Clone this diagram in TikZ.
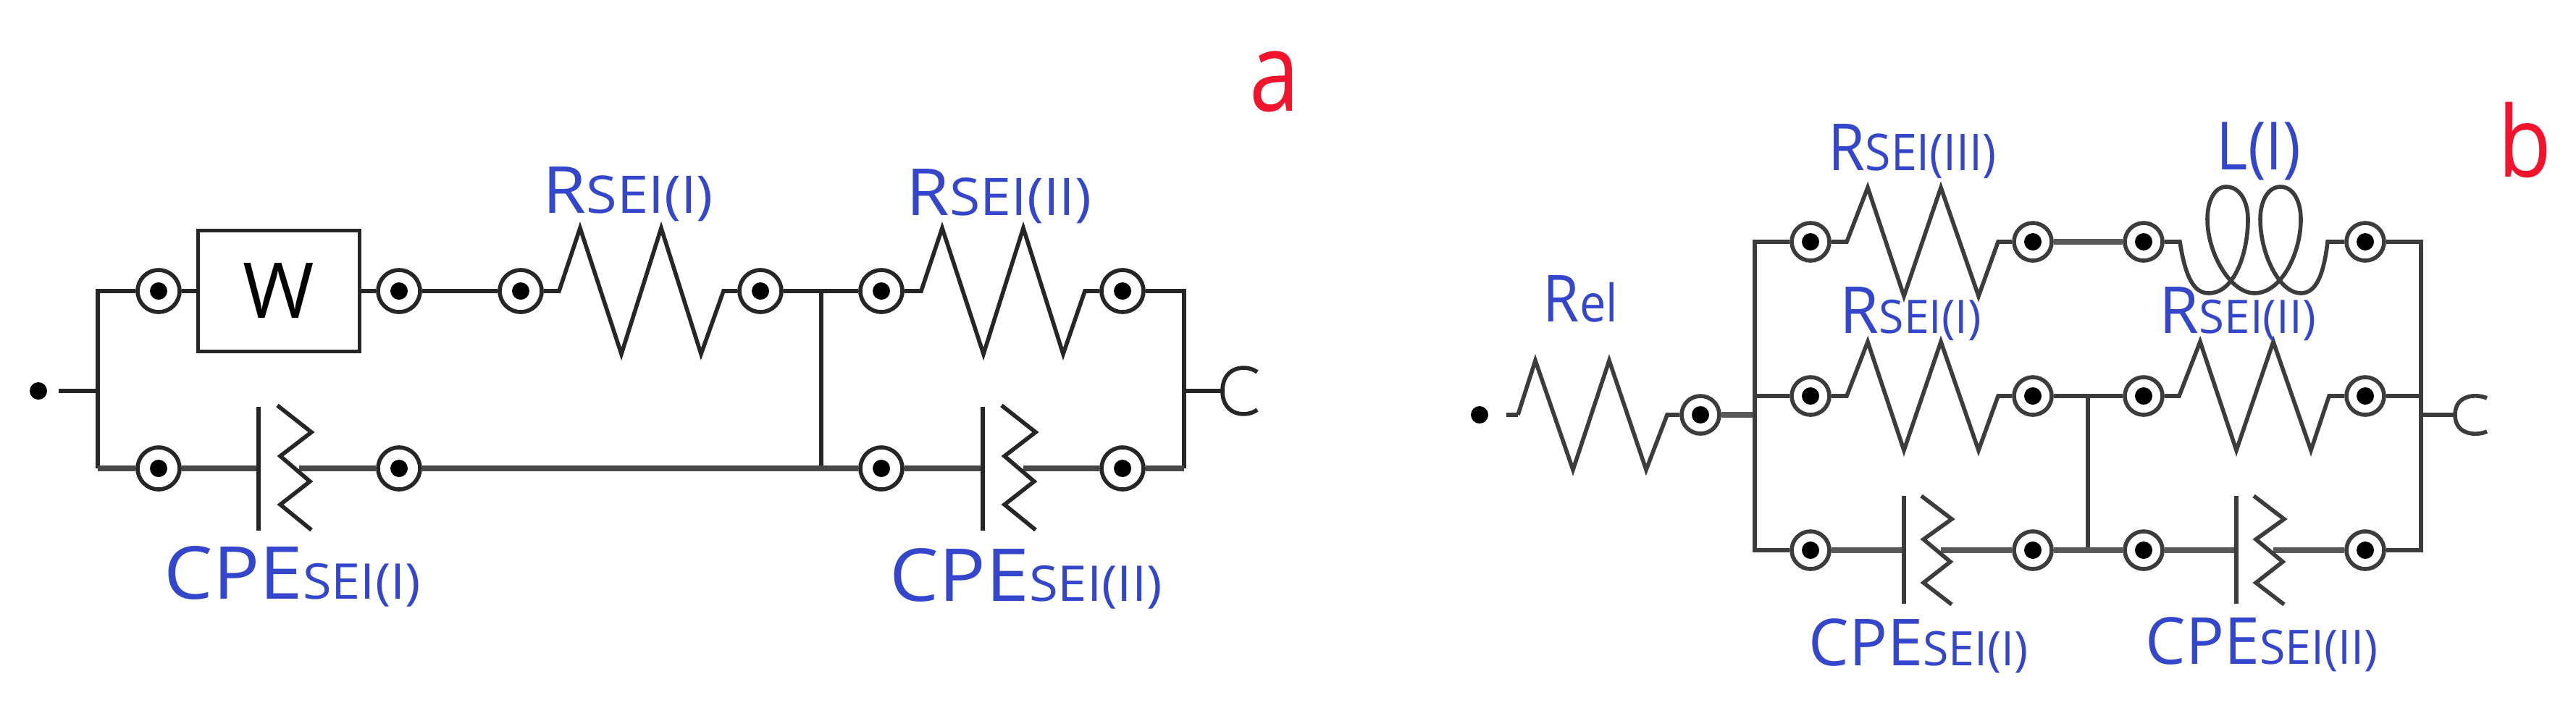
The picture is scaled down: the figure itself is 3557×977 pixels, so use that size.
\documentclass[tikz,border=0pt]{standalone}
\usepackage{graphicx}
\usepackage{fontspec}
\setmainfont{Open Sans}
\definecolor{labblue}{HTML}{3346CC}
\definecolor{labred}{HTML}{F2142D}
\definecolor{wirecol}{HTML}{262626}
\definecolor{wirecolb}{HTML}{3C3C3C}
\tikzset{
  wire/.style={draw=wirecol,line width=1.4pt,line join=miter},
  wireb/.style={draw=wirecol!85!white,line width=1.8pt},
  term/.style={circle,draw=wirecol,line width=1.4pt,fill=white,minimum size=14.5pt,inner sep=0pt,
    path picture={\fill[black] (path picture bounding box.center) circle (3pt);}},
  termb/.style={term,draw=wirecolb,minimum size=13pt},
  dotn/.style={circle,fill=black,minimum size=6pt,inner sep=0pt},
  lab/.style={anchor=base west,inner sep=0pt,text=labblue},
  tag/.style={anchor=base west,inner sep=0pt,text=labred},
  wbox/.style={rectangle,draw=wirecol,line width=1.4pt,fill=white,minimum width=55.75pt,minimum height=41.75pt,inner sep=0pt}
}
% label: name, x, baseline, width(pt), big size, small size, big text, small text
\newcommand{\lbl}[8]{\node[lab] (#1) at (#2,#3) {\resizebox{#4pt}{\height}{\fontsize{#5pt}{#5pt}\selectfont #7\fontsize{#6pt}{#6pt}\selectfont #8}};}
\newcommand{\rzA}{-- ++(29,-87) -- ++(57,174) -- ++(55,-174) -- ++(55,174)}
\newcommand{\rzB}{-- ++(29,-75) -- ++(50,150) -- ++(51,-150) -- ++(52,150)}
\newcommand{\zigA}{++(-47,-87) -- ++(47,37) -- ++(-43,33) -- ++(41,35) -- ++(-41,32) -- ++(43,35)}
\newcommand{\zigB}{++(-42,-75) -- ++(42,32) -- ++(-39,28) -- ++(37,31) -- ++(-37,29) -- ++(39,30)}
\begin{document}
\begin{tikzpicture}[x=0.25pt,y=-0.25pt]
\useasboundingbox (0,0) rectangle (3557,977);
%%%% panel a
\node[dotn] (aS) at (53,540) {};
\coordinate (aL) at (135,540);
\coordinate (aLt) at (135,402);
\coordinate (aLb) at (135,647);
\node[term] (a1) at (219,402) {};
\node[wbox] (aW) at (385,402) {\fontsize{26.6pt}{26.6pt}\selectfont\raisebox{-1.75pt}{W}};
\node[term] (a2) at (551,402) {};
\node[term] (a3) at (719,402) {};
\coordinate (aR1s) at (772,402);
\coordinate (aR1e) at (999,402);
\node[term] (a4) at (1050,402) {};
\coordinate (aJt) at (1134,402);
\coordinate (aJb) at (1134,647);
\node[term] (a5) at (1217,402) {};
\coordinate (aR2s) at (1272,402);
\coordinate (aR2e) at (1498,402);
\node[term] (a6) at (1550,402) {};
\coordinate (aRt) at (1635,402);
\coordinate (aR) at (1635,540);
\coordinate (aRb) at (1635,647);
\coordinate (aC) at (1688,540);
\coordinate (aC1) at (1736,514);
\coordinate (aC2) at (1736,566);
\node[term] (a7) at (219,647) {};
\coordinate (aP1) at (357,647);
\coordinate (aZ1) at (413,647);
\node[term] (a8) at (551,647) {};
\node[term] (a9) at (1217,647) {};
\coordinate (aP2) at (1357,647);
\coordinate (aZ2) at (1413,647);
\node[term] (a10) at (1550,647) {};
\draw[wire,shorten <=3.75pt] (aS) -- (aL);
\draw[wire] (a1) -- (aLt) -- (aLb);
\draw[wire] (a1) -- (aW);
\draw[wire] (aW) -- (a2);
\draw[wire] (a2) -- (a3);
\draw[wire] (a3) -- (aR1s) \rzA -- (aR1e) -- (a4);
\draw[wire] (a4) -- (a5);
\draw[wire] (a5) -- (aR2s) \rzA -- (aR2e) -- (a6);
\draw[wire] (a6) -- (aRt) -- (aRb);
\draw[wire] (aR) -- (aC);
\draw[wire] (aC1) .. controls (1722,503) and (1688,505) .. (aC) .. controls (1688,575) and (1722,577) .. (aC2);
\draw[wire] (aJt) -- (aJb);
\draw[wireb] (aLb) -- (a7);
\draw[wireb] (aRb) -- (a10);
\draw[wireb] (a7) -- (aP1);
\draw[wireb] (aZ1) -- (a8);
\draw[wireb] (a8) -- (aJb) -- (a9);
\draw[wireb] (a9) -- (aP2);
\draw[wireb] (aZ2) -- (a10);
\draw[wire] (aP1) ++(0,-85) -- ++(0,171);
\draw[wire] (aP2) ++(0,-85) -- ++(0,171);
\draw[wire] (aZ1) ++(17,0) \zigA;
\draw[wire] (aZ2) ++(17,0) \zigA;
\lbl{aL1}{749}{294}{58.75}{22.4}{17.9}{R}{SEI(I)}
\lbl{aL2}{1251}{297}{63.75}{22.4}{17.9}{R}{SEI(II)}
\lbl{aL3}{226}{827}{88.5}{25.2}{17}{CPE}{SEI(I)}
\lbl{aL4}{1228}{830}{94}{25.2}{17}{CPE}{SEI(II)}
\node[tag] (aT) at (1725,153) {\resizebox{17.25pt}{\height}{\fontsize{38pt}{38pt}\selectfont a}};
%%%% panel b
\begin{scope}[wire/.append style={draw=wirecolb},wireb/.append style={draw=wirecolb!85!white}]
\node[dotn] (bS) at (2043,573) {};
\coordinate (bR0s) at (2096,573);
\coordinate (bR0e) at (2302,573);
\node[termb] (b0) at (2348,573) {};
\coordinate (bL) at (2423,573);
\coordinate (bLt) at (2423,334);
\coordinate (bLm) at (2423,547);
\coordinate (bLb) at (2423,760);
\node[termb] (b1) at (2500,334) {};
\coordinate (bR3s) at (2550,334);
\coordinate (bR3e) at (2759,334);
\node[termb] (b2) at (2807,334) {};
\node[termb] (b3) at (2960,334) {};
\coordinate (bI1) at (3010,334);
\coordinate (bI2) at (3214,334);
\node[termb] (b4) at (3266,334) {};
\coordinate (bRt) at (3343,334);
\coordinate (bRm) at (3343,547);
\coordinate (bR) at (3343,573);
\coordinate (bRb) at (3343,760);
\coordinate (bC) at (3390,573);
\coordinate (bC1) at (3434,550);
\coordinate (bC2) at (3434,596);
\node[termb] (b5) at (2500,547) {};
\coordinate (bR1s) at (2550,547);
\coordinate (bR1e) at (2759,547);
\node[termb] (b6) at (2807,547) {};
\coordinate (bJt) at (2883,547);
\coordinate (bJb) at (2883,760);
\node[termb] (b7) at (2960,547) {};
\coordinate (bR2s) at (3009,547);
\coordinate (bR2e) at (3216,547);
\node[termb] (b8) at (3266,547) {};
\node[termb] (b9) at (2500,760) {};
\coordinate (bP1) at (2629,760);
\coordinate (bZ1) at (2680,760);
\node[termb] (b10) at (2807,760) {};
\node[termb] (b11) at (2960,760) {};
\coordinate (bP2) at (3088,760);
\coordinate (bZ2) at (3139,760);
\node[termb] (b12) at (3266,760) {};
\draw[wire,shorten <=6pt] (bS) -- (bR0s);
\draw[wire] (bR0s) -- ++(24,-75) -- ++(52,151) -- ++(50,-151) -- ++(51,151) -- (bR0e) -- (b0);
\draw[wireb] (b0) -- (bL);
\draw[wire] (b1) -- (bLt) -- (bLb) -- (b9);
\draw[wire] (bLm) -- (b5);
\draw[wire] (b1) -- (bR3s) \rzB -- (bR3e) -- (b2);
\draw[wireb] (b2) -- (b3);
\draw[wire] (b3) -- (bI1)
  .. controls (3018,385) and (3030,405) .. (3050,405)
  .. controls (3085,405) and (3104,350) .. (3104,303)
  .. controls (3104,277) and (3092,258) .. (3074,258)
  .. controls (3058,258) and (3048,277) .. (3048,303)
  .. controls (3048,350) and (3080,405) .. (3113,405)
  .. controls (3150,405) and (3177,350) .. (3177,303)
  .. controls (3177,277) and (3166,258) .. (3149,258)
  .. controls (3132,258) and (3121,277) .. (3121,303)
  .. controls (3121,350) and (3147,405) .. (3177,405)
  .. controls (3196,405) and (3208,385) .. (bI2) -- (b4);
\draw[wire] (b4) -- (bRt) -- (bRb) -- (b12);
\draw[wire] (bRm) -- (b8);
\draw[wire] (bR) -- (bC);
\draw[wire] (bC1) .. controls (3421,544) and (3390,544) .. (bC) .. controls (3390,602) and (3421,602) .. (bC2);
\draw[wire] (b5) -- (bR1s) \rzB -- (bR1e) -- (b6);
\draw[wire] (b6) -- (b7);
\draw[wire] (b7) -- (bR2s) \rzB -- (bR2e) -- (b8);
\draw[wire] (bJt) -- (bJb);
\draw[wireb] (b9) -- (bP1);
\draw[wireb] (bZ1) -- (b10);
\draw[wireb] (b10) -- (b11);
\draw[wireb] (b11) -- (bP2);
\draw[wireb] (bZ2) -- (b12);
\draw[wire] (bP1) ++(0,-75) -- ++(0,149);
\draw[wire] (bP2) ++(0,-75) -- ++(0,149);
\draw[wire] (bZ1) ++(15,0) \zigB;
\draw[wire] (bZ2) ++(15,0) \zigB;
\end{scope}
\lbl{bL0}{2130}{444}{25.75}{22.4}{17.9}{R}{el}
\lbl{bL1}{2524}{235}{58}{22.4}{17.5}{R}{SEI(III)}
\lbl{bL2}{3060}{234}{29}{23}{23}{L(I)}{}
\lbl{bL3}{2540}{460}{48.75}{22.4}{16}{R}{SEI(I)}
\lbl{bL4}{2981}{460}{54}{22.4}{16}{R}{SEI(II)}
\lbl{bL5}{2497}{919}{75.75}{22.4}{16.4}{CPE}{SEI(I)}
\lbl{bL6}{2962}{917}{80.25}{22.4}{16.4}{CPE}{SEI(II)}
\node[tag] (bT) at (3449,244) {\resizebox{18.5pt}{\height}{\fontsize{34pt}{34pt}\selectfont b}};
\end{tikzpicture}
\end{document}
